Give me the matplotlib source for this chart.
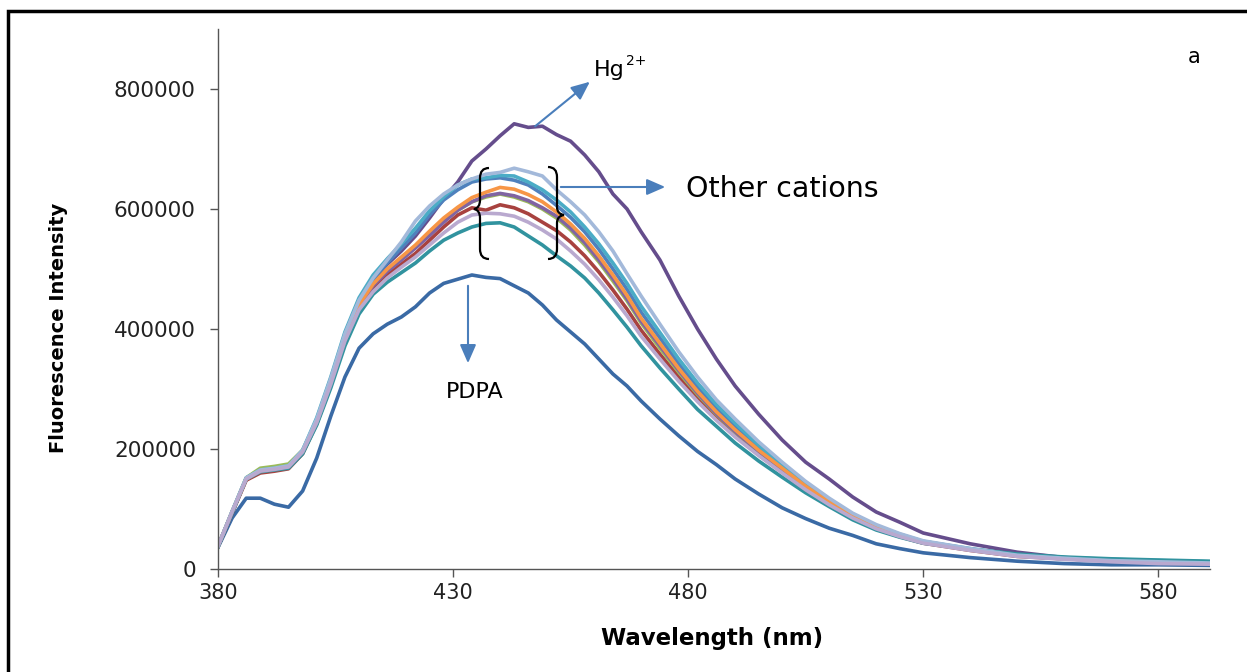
import matplotlib
matplotlib.use("Agg")
import matplotlib.pyplot as plt
from matplotlib.path import Path
from matplotlib.patches import PathPatch, Rectangle, FancyArrowPatch

# wavelength grid (nm) and intensities (x1000)
wl = [380, 383, 386, 389, 392, 395, 398, 401, 404, 407, 410, 413, 416, 419, 422, 425, 428, 431, 434, 437,
      440, 443, 446, 449, 452, 455, 458, 461, 464, 467, 470, 474, 478, 482, 486, 490, 495, 500, 505, 510,
      515, 520, 525, 530, 540, 550, 560, 570, 580, 591]

pdpa = [36, 85, 118, 118, 108, 103, 130, 185, 255, 320, 368, 392, 408, 420, 437, 460, 476, 483, 490, 486,
        484, 472, 460, 440, 415, 395, 375, 350, 325, 305, 280, 250, 222, 196, 174, 150, 125, 102, 84, 68,
        56, 42, 34, 27, 19, 13, 9, 7, 7, 6]
hg = [38, 95, 150, 163, 166, 170, 195, 245, 312, 388, 445, 482, 508, 530, 555, 585, 617, 645, 680, 700,
      722, 742, 736, 738, 724, 713, 690, 662, 625, 600, 562, 515, 455, 400, 350, 305, 258, 215, 178, 150,
      120, 95, 78, 60, 42, 28, 19, 14, 12, 10]
blue = [38, 95, 150, 164, 167, 171, 197, 248, 316, 390, 447, 483, 510, 535, 560, 590, 615, 632, 645, 650,
        652, 648, 640, 625, 606, 586, 562, 533, 500, 466, 428, 385, 342, 303, 268, 238, 202, 171, 140, 114,
        90, 71, 57, 46, 33, 23, 18, 15, 13, 11]
red = [37, 93, 148, 160, 163, 167, 192, 242, 306, 380, 434, 466, 490, 508, 526, 548, 570, 590, 602, 598,
       607, 602, 592, 578, 564, 545, 522, 495, 465, 433, 398, 358, 320, 284, 252, 223, 191, 162, 133, 108,
       85, 67, 54, 43, 31, 21, 17, 14, 12, 10]
green = [38, 95, 152, 168, 171, 175, 198, 246, 312, 386, 440, 474, 498, 518, 538, 560, 580, 598, 612, 620,
         625, 620, 612, 600, 585, 565, 540, 512, 480, 447, 410, 368, 328, 291, 258, 228, 195, 165, 136, 110,
         87, 69, 55, 44, 32, 22, 17, 14, 12, 10]
purple = [38, 94, 150, 163, 166, 170, 195, 245, 310, 384, 438, 472, 496, 515, 535, 556, 578, 598, 612, 622,
          626, 622, 614, 602, 588, 568, 544, 515, 484, 450, 413, 372, 331, 293, 259, 229, 196, 166, 136, 111,
          87, 69, 55, 44, 32, 22, 17, 14, 12, 10]
aqua = [38, 96, 152, 165, 168, 172, 198, 252, 320, 395, 452, 490, 517, 542, 568, 597, 620, 640, 650, 652,
        656, 655, 645, 632, 615, 595, 570, 542, 510, 476, 438, 394, 350, 310, 274, 243, 206, 174, 143, 116,
        91, 72, 58, 46, 34, 24, 19, 16, 14, 12]
orange = [38, 95, 150, 163, 166, 170, 195, 245, 310, 385, 440, 475, 500, 520, 540, 563, 585, 603, 619, 628,
          636, 633, 624, 612, 595, 575, 551, 522, 490, 456, 418, 376, 334, 296, 262, 232, 198, 168, 138, 112,
          88, 70, 56, 45, 32, 22, 18, 14, 12, 10]
teal = [37, 94, 150, 162, 165, 168, 192, 240, 302, 372, 425, 458, 478, 494, 510, 530, 548, 560, 570, 576,
        577, 570, 555, 540, 522, 505, 485, 460, 432, 403, 372, 335, 300, 266, 238, 210, 180, 153, 127, 104,
        82, 65, 53, 43, 33, 25, 20, 17, 15, 13]
light = [38, 96, 152, 165, 168, 172, 198, 250, 318, 392, 448, 485, 515, 545, 580, 605, 625, 640, 650, 658,
         661, 668, 662, 655, 632, 612, 590, 562, 530, 492, 455, 408, 362, 320, 282, 250, 212, 178, 146, 118,
         93, 74, 59, 47, 34, 23, 18, 14, 12, 10]
lavender = [38, 95, 150, 163, 166, 170, 195, 244, 308, 380, 432, 462, 485, 503, 520, 540, 560, 578, 590, 593,
            592, 588, 578, 565, 550, 530, 508, 482, 453, 422, 388, 350, 313, 279, 248, 220, 189, 160, 132, 107,
            85, 67, 54, 43, 31, 21, 16, 12, 9, 8]

series = [pdpa, hg, blue, red, green, purple, aqua, orange, teal, light, lavender]
colors = ["#3A6AA5", "#654D8C", "#4F81BD", "#A8423F", "#9BBB59", "#8064A2",
          "#4BACC6", "#F79646", "#31939F", "#A3B9DA", "#B9A9CF"]

W, H = 1247, 672
fig = plt.figure(figsize=(W / 100, H / 100), dpi=100)
ax = fig.add_axes([218 / W, 1 - 569 / H, (1210 - 218) / W, (569 - 29) / H])

for ys, c in zip(series, colors):
    ax.plot(wl, [v * 1000 for v in ys], color=c, lw=2.6, solid_joinstyle="round")

ax.set_xlim(380, 591)
ax.set_ylim(0, 900000)
ax.set_xticks([380, 430, 480, 530, 580])
ax.set_yticks([0, 200000, 400000, 600000, 800000])
for s in ["top", "right"]:
    ax.spines[s].set_visible(False)
for s in ["left", "bottom"]:
    ax.spines[s].set_color("#555555")
    ax.spines[s].set_linewidth(1.0)
ax.tick_params(axis="y", direction="out", length=6, width=1, color="#555555",
               labelsize=15.5, pad=10, labelcolor="#222222")
ax.tick_params(axis="x", direction="out", length=6, width=1, color="#555555",
               labelsize=15, pad=4, labelcolor="#222222")


def px(x, y):
    return (x / W, 1 - y / H)


# axis titles
fig.text(*px(712, 638), "Wavelength (nm)", ha="center", va="center",
         fontsize=16.5, fontweight="bold")
fig.text(*px(59, 328), "Fluorescence Intensity", ha="center", va="center", rotation=90,
         fontsize=14, fontweight="bold")

# annotations
fig.text(*px(594, 70), "Hg", ha="left", va="center", fontsize=16)
fig.text(*px(626, 61), "2+", ha="left", va="center", fontsize=10)
fig.text(*px(686, 189), "Other cations", ha="left", va="center", fontsize=20.5)
fig.text(*px(475, 392), "PDPA", ha="center", va="center", fontsize=16)
fig.text(*px(1194, 57), "a", ha="center", va="center", fontsize=15)

arrow = dict(arrowstyle="-|>,head_length=0.8,head_width=0.35", color="#4A7EBB", lw=1.5)
for (x0, y0), (x1, y1) in [((533, 128), (592, 80)), ((558, 187), (668, 187)), ((468, 283), (468, 366))]:
    fig.patches.append(FancyArrowPatch(px(x0, y0), px(x1, y1), transform=fig.transFigure,
                                       mutation_scale=14, **arrow))

# braces around the cation group
left_brace = [(489, 168), (480, 168), (480, 178), (480, 200), (480, 208), (474, 209),
              (480, 210), (480, 218), (480, 249), (480, 259), (489, 259)]
right_brace = [(548, 167), (557, 167), (557, 177), (557, 207), (557, 214), (564, 215),
               (557, 216), (557, 223), (557, 249), (557, 259), (548, 259)]
codes = [Path.MOVETO, Path.CURVE3, Path.CURVE3, Path.LINETO, Path.CURVE3, Path.CURVE3,
         Path.CURVE3, Path.CURVE3, Path.LINETO, Path.CURVE3, Path.CURVE3]
for pts in [left_brace, right_brace]:
    fig.patches.append(PathPatch(Path([px(*p) for p in pts], codes), transform=fig.transFigure,
                                 fill=False, lw=1.6, color="black"))

# frame around the figure
fig.patches.append(Rectangle(px(8, 700), 1300 / W, (700 - 11) / H, transform=fig.transFigure,
                             fill=False, lw=2.5, edgecolor="black"))

fig.savefig("out.png", dpi=100)
